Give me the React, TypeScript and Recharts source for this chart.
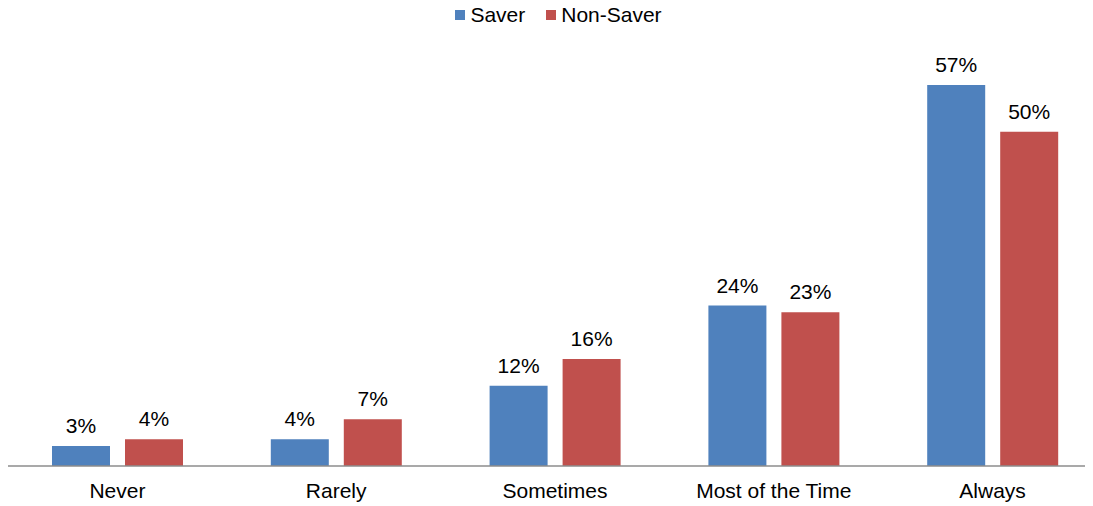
import { BarChart, Bar, XAxis, YAxis, LabelList } from 'recharts';

const categories = ['Never', 'Rarely', 'Sometimes', 'Most of the Time', 'Always'];
const saver = [3, 4, 12, 24, 57];
const nonSaver = [4, 7, 16, 23, 50];

const data = categories.map((name, i) => ({ name, saver: saver[i], nonSaver: nonSaver[i] }));

const FONT = '"Liberation Sans", Arial, sans-serif';
const FS = 21;

function TopLegend() {
  const items = [
    { label: 'Saver', color: '#4F81BD' },
    { label: 'Non-Saver', color: '#C0504D' },
  ];
  return (
    <div
      style={{
        position: 'absolute',
        top: 0,
        left: 8,
        width: 1085,
        height: 30,
        lineHeight: '30px',
        display: 'flex',
        justifyContent: 'center',
        fontFamily: FONT,
        fontSize: FS,
        color: '#000',
      }}
    >
      {items.map((it, i) => (
        <div key={it.label} style={{ display: 'flex', alignItems: 'center', marginLeft: i ? 21 : 0 }}>
          <span style={{ width: 10, height: 10, background: it.color, marginRight: 5, display: 'inline-block' }} />
          <span>{it.label}</span>
        </div>
      ))}
    </div>
  );
}

export default function App() {
  return (
    <div style={{ position: 'relative', marginTop: -8, paddingTop: 8, width: 1085, height: 498, overflow: 'hidden' }}>
      <BarChart
        width={1094}
        height={498}
        data={data}
        margin={{ top: 57, right: 0, bottom: 0, left: 0 }}
        barSize={58}
        barGap={15}
      >
        <XAxis
          dataKey="name"
          height={40}
          tickLine={false}
          tickSize={0}
          tickMargin={17}
          axisLine={{ stroke: '#8c8c8c', strokeWidth: 1.5 }}
          tick={{ fill: '#000', fontSize: FS, fontFamily: FONT }}
          interval={0}
        />
        <YAxis hide domain={[0, 60]} />
        <Bar dataKey="saver" fill="#4F81BD" isAnimationActive={false}>
          <LabelList dataKey="saver" position="top" offset={13} formatter={(v: any) => `${v}%`} style={{ fill: '#000', fontSize: FS, fontFamily: FONT }} />
        </Bar>
        <Bar dataKey="nonSaver" fill="#C0504D" isAnimationActive={false}>
          <LabelList dataKey="nonSaver" position="top" offset={13} formatter={(v: any) => `${v}%`} style={{ fill: '#000', fontSize: FS, fontFamily: FONT }} />
        </Bar>
      </BarChart>
      <TopLegend />
    </div>
  );
}
